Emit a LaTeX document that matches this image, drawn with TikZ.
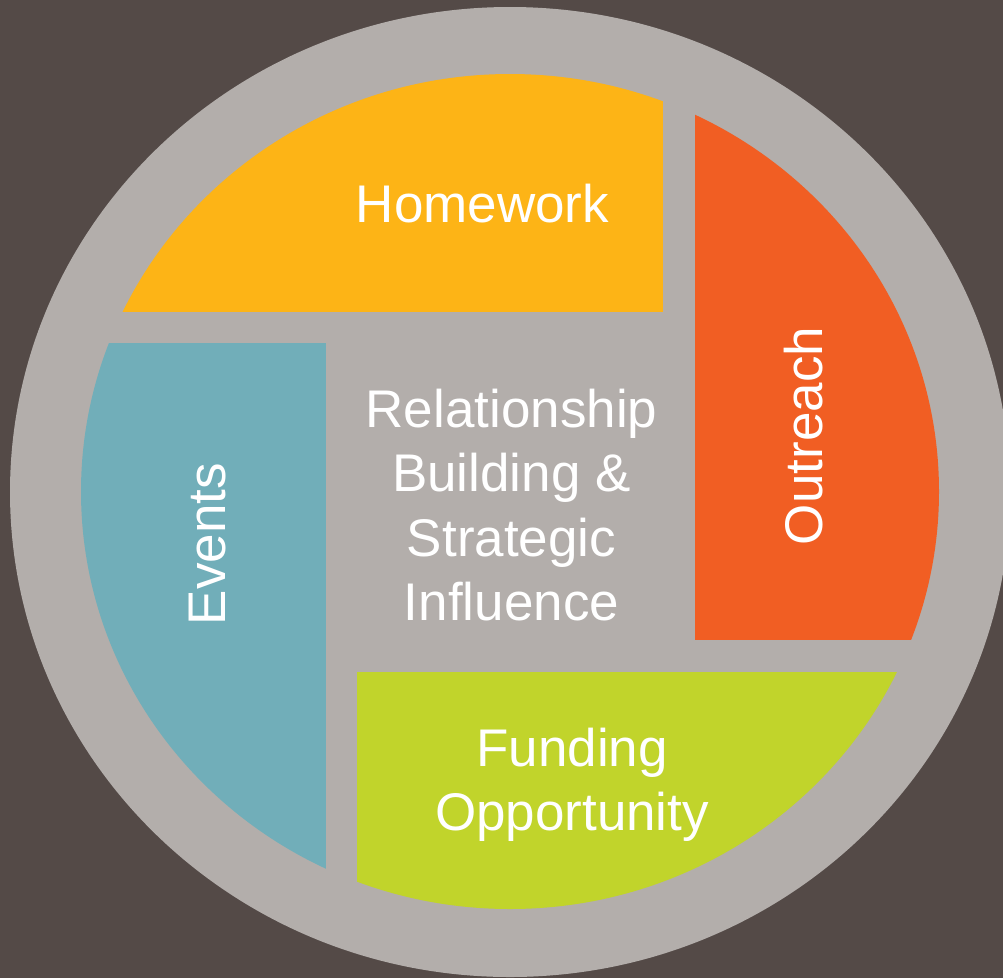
\documentclass[tikz,border=0pt]{standalone}
\usepackage{fontspec}
\setmainfont{Liberation Sans}
\usetikzlibrary{positioning}

\definecolor{bgbrown}{HTML}{544A47}
\definecolor{ringgrey}{HTML}{B3AEAB}
\definecolor{homeyellow}{HTML}{FDB416}
\definecolor{outorange}{HTML}{F15E23}
\definecolor{fundgreen}{HTML}{C1D42B}
\definecolor{eventteal}{HTML}{71AEB9}

\begin{document}
\begin{tikzpicture}[x=1pt, y=-1pt,
                    label node/.style={text=white,font=\fontsize{53}{64.3}\selectfont,align=center,inner sep=0pt}]

      \useasboundingbox (0,0) rectangle (1003,978);
      \fill[bgbrown] (0,0) rectangle (1003,978);
      \fill[ringgrey] (510,492) ellipse [x radius=500pt, y radius=485pt];

      % the four pieces of the inner disc
      \begin{scope}
        \clip (510,491.5) ellipse [x radius=429pt, y radius=417.5pt];
        \fill[homeyellow] (0,0) rectangle (662.5,311.5);
        \fill[outorange] (695,0) rectangle (1003,640);
        \fill[fundgreen] (357,671.5) rectangle (1003,978);
        \fill[eventteal] (0,343) rectangle (325.5,978);
      \end{scope}

      \node[label node] (homework) at (482.5,204) {Homework};
      \node[label node] (centre) at (511.5,505) {Relationship\\Building \&\\Strategic\\Influence};
      \node[label node, rotate=90] (events) at (207.5,544) {Events};
      \node[label node, rotate=90] (outreach) at (804,436) {Outreach};
      \node[label node] (funding) at (572,784.5) {Funding\\Opportunity};

\end{tikzpicture}
\end{document}
